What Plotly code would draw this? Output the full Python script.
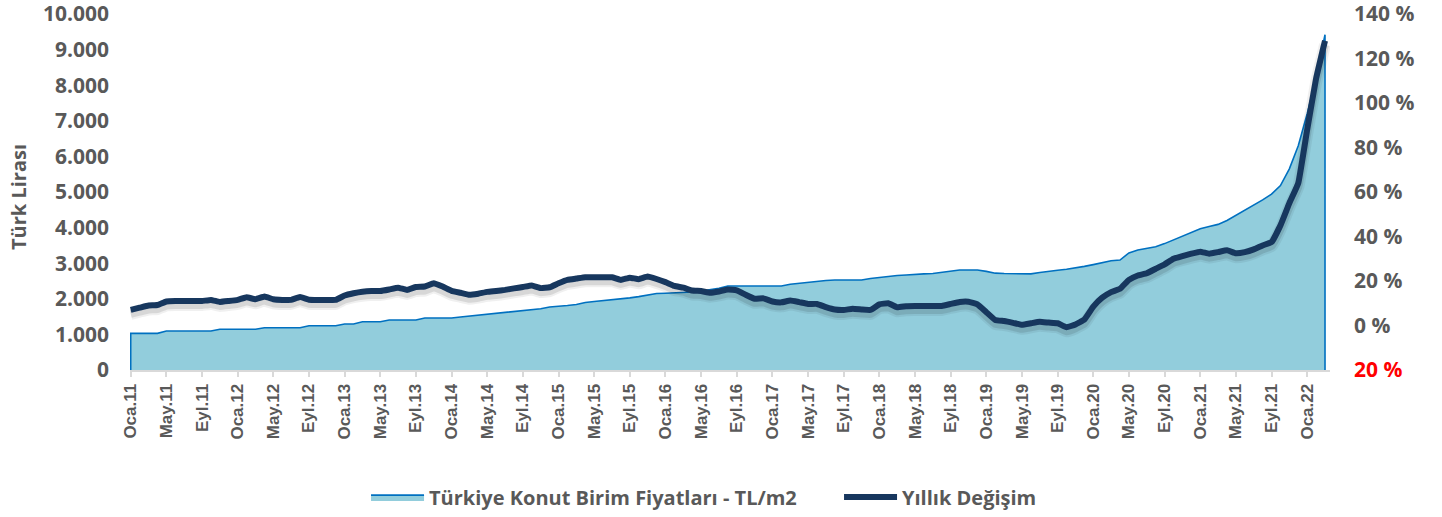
import plotly.graph_objects as go

# ---------------- data ----------------
month_abbr = ["Oca", "Şub", "Mar", "Nis", "May", "Haz", "Tem", "Ağu", "Eyl", "Eki", "Kas", "Ara"]
years = list(range(2011, 2023))
n_months = 135  # Oca.11 .. Mar.22
months = [f"{month_abbr[i % 12]}.{str(years[i // 12])[2:]}" for i in range(n_months)]

price_tl_m2 = [
    1030, 1030, 1030, 1030,
    1095, 1095, 1095, 1095, 1095, 1095,
    1143, 1143, 1143, 1143, 1143,
    1188, 1188, 1188, 1188, 1188,
    1245, 1245, 1245, 1245,
    1292, 1292,
    1357, 1357, 1357,
    1404, 1404, 1404, 1404,
    1460, 1460, 1460, 1460,
    1490, 1515, 1540, 1570, 1595, 1625, 1660, 1685, 1692, 1720,
    1770, 1785, 1810, 1840, 1895, 1925, 1945, 1966, 2000, 2025,
    2060, 2100, 2150, 2158, 2163, 2170, 2190, 2215, 2255, 2294, 2360,
    2360, 2360, 2360, 2360, 2360, 2360,
    2410, 2440, 2465, 2490, 2515, 2528, 2528, 2528, 2530, 2570,
    2605, 2640, 2655, 2668, 2690, 2700, 2712, 2740, 2785, 2809,
    2809, 2809, 2770, 2720, 2710, 2700, 2700, 2700, 2740, 2762,
    2800, 2828, 2860, 2910, 2960, 3015, 3070, 3090, 3290, 3370,
    3410, 3460, 3550, 3655, 3750, 3850, 3970, 4030, 4090, 4200,
    4340, 4480, 4620, 4780, 4940, 5180, 5650, 6300, 7200, 8200,
    9420,
]

yearly_change_pct = [
    7, 8, 9, 9.2, 10.8, 11, 11, 11, 11, 11.5,
    10.6, 11, 11.5, 12.7, 11.8, 13, 11.8, 11.5, 11.5, 12.8,
    11.6, 11.5, 11.5, 11.5, 13.5, 14.5, 15.2, 15.5, 15.5, 16.2,
    17, 16, 17.3, 17.5, 19, 17.5, 15.6, 14.7, 13.8, 14.3,
    15.1, 15.5, 16, 16.7, 17.3, 18, 16.8, 17.2, 19, 20.5,
    21.1, 21.7, 21.7, 21.7, 21.7, 20.5, 21.5, 20.8, 22, 20.9,
    19.5, 17.8, 17, 15.7, 15.5, 14.7, 15.3, 16.2, 15.8, 13.8,
    12, 12.2, 10.8, 10.4, 11.2, 10.5, 9.7, 9.7, 8.3, 7.2,
    7, 7.5, 7.2, 7, 9.5, 10, 8.2, 8.7, 8.8, 8.8,
    8.8, 8.8, 9.7, 10.6, 10.7, 9.5, 6, 2.5, 2, 1.2,
    0.3, 1, 1.7, 1.3, 1.0, -0.8, 0.5, 2.7, 8.5, 12.5,
    15, 16.5, 20.5, 22.5, 23.5, 25.5, 27.5, 30, 31.2, 32.3,
    33.2, 32.3, 33, 33.8, 32.5, 33, 34.2, 36, 37.5, 45,
    55, 64, 88, 111, 128,
]

left_tickvals = [0, 1000, 2000, 3000, 4000, 5000, 6000, 7000, 8000, 9000, 10000]
left_ticktext = ["0", "1.000", "2.000", "3.000", "4.000", "5.000", "6.000", "7.000", "8.000", "9.000", "10.000"]
right_tickvals = [-20, 0, 20, 40, 60, 80, 100, 120, 140]
right_ticktext = ["<span style='color:#FF0000'>20 %</span>", "0 %", "20 %", "40 %", "60 %", "80 %", "100 %", "120 %", "140 %"]
x_tickvals = months[::4]

series_names = ["Türkiye Konut Birim Fiyatları - TL/m2", "Yıllık Değişim"]
y_title = "Türk Lirası"

assert len(price_tl_m2) == n_months and len(yearly_change_pct) == n_months

# ---------------- figure ----------------
GRAY = "#595959"
FONT = "Open Sans"

fig = go.Figure()

# area drawn as closed polygon (outline on all sides like the original)
area_x = [months[0]] + months + [months[-1]]
area_y = [0] + price_tl_m2 + [0]
fig.add_trace(go.Scatter(
    x=area_x, y=area_y, name=series_names[0], mode="lines",
    fill="toself", fillcolor="#92CDDC",
    line=dict(color="#0070C0", width=1.6),
    xaxis="x", yaxis="y", hoverinfo="skip",
))

# soft shadow under the change line (same data on a slightly shifted hidden axis)
for w, a in [(12, 0.06), (8, 0.10)]:
    fig.add_trace(go.Scatter(
        x=months, y=yearly_change_pct, mode="lines", showlegend=False,
        line=dict(color=f"rgba(0,0,0,{a})", width=w, shape="spline", smoothing=0.3),
        xaxis="x", yaxis="y2", hoverinfo="skip",
    ))

fig.add_trace(go.Scatter(
    x=months, y=yearly_change_pct, name=series_names[1], mode="lines",
    line=dict(color="#17375E", width=6, shape="spline", smoothing=0.3),
    xaxis="x", yaxis="y3",
))

fig.add_annotation(
    text=y_title, xref="paper", yref="paper", x=-0.0925, y=0.486,
    xanchor="center", yanchor="middle", textangle=-90, showarrow=False,
    font=dict(family=FONT, size=20, color=GRAY, weight="bold"),
)

shadow_shift = 1.8
fig.update_layout(
    width=1442, height=517,
    paper_bgcolor="white", plot_bgcolor="white",
    margin=dict(l=130, r=112, t=14, b=147, autoexpand=False),
    font=dict(family=FONT, color=GRAY, size=20, weight="bold"),
    showlegend=True,
    legend=dict(
        orientation="h", x=0.1967, xanchor="left", y=-0.357, yanchor="middle",
        font=dict(family=FONT, size=20, color=GRAY, weight="bold"),
        entrywidth=405, entrywidthmode="pixels",
        itemwidth=53, bgcolor="rgba(0,0,0,0)", traceorder="normal",
    ),
    xaxis=dict(
        type="category", categoryorder="array", categoryarray=months,
        range=[-0.08, 134.56],
        tickmode="array", tickvals=x_tickvals, ticktext=x_tickvals,
        tickangle=-90, ticks="outside", ticklen=5, tickcolor="#D9D9D9", tickwidth=1.5,
        showline=True, linecolor="#D9D9D9", linewidth=2,
        showgrid=False, zeroline=False, automargin=False,
        tickfont=dict(family="Liberation Sans", size=17, color=GRAY, weight="bold"),
        layer="above traces",
    ),
    yaxis=dict(
        range=[0, 10000], tickmode="array", tickvals=left_tickvals, ticktext=left_ticktext,
        showgrid=False, zeroline=False, showline=False, ticks="",
        tickfont=dict(family=FONT, size=21, color=GRAY, weight="bold"),
        ticklabelstandoff=20, automargin=False, ticklabeloverflow="allow",
    ),
    yaxis2=dict(
        range=[-20 + shadow_shift, 140 + shadow_shift], overlaying="y", side="right",
        visible=False, showgrid=False, zeroline=False, automargin=False,
    ),
    yaxis3=dict(
        range=[-20, 140], overlaying="y", side="right",
        tickmode="array", tickvals=right_tickvals, ticktext=right_ticktext,
        showgrid=False, zeroline=False, showline=False, ticks="",
        tickfont=dict(family=FONT, size=21, color=GRAY, weight="bold"),
        ticklabelstandoff=23, automargin=False, ticklabeloverflow="allow",
    ),
)

# remove the browser's default 8px body margin so the figure fills the window exactly
fig.write_html(
    "out.html",
    config={"displayModeBar": False},
    post_script="document.body.style.margin='0px';",
)
